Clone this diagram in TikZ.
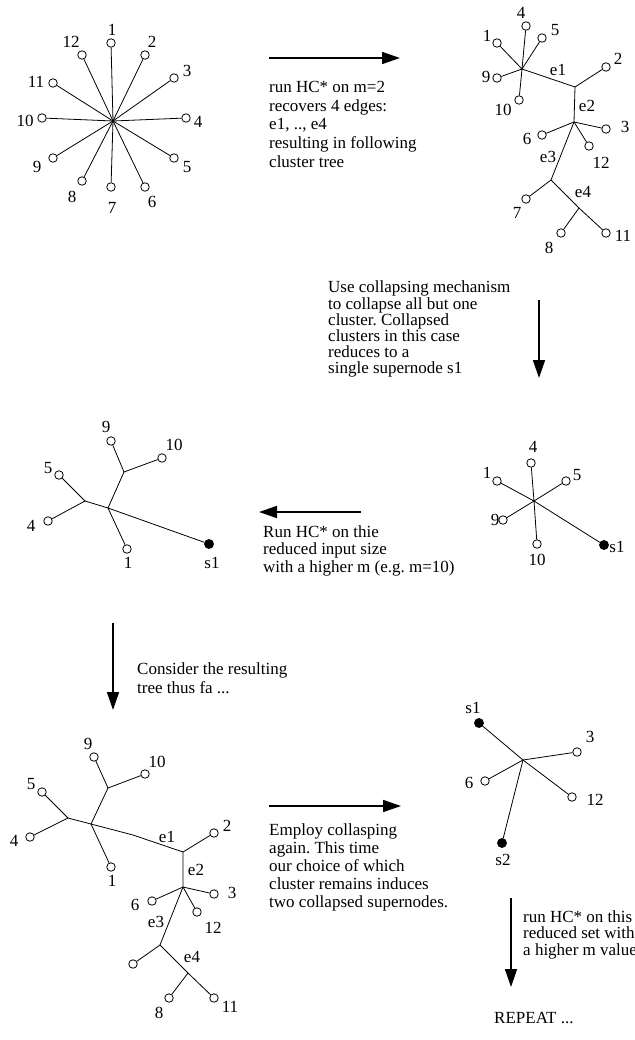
\documentclass[tikz,border=0pt]{standalone}
\usepackage{fontspec}
\setmainfont{Liberation Serif}
\usetikzlibrary{arrows.meta}
\frenchspacing

\begin{document}
\begin{tikzpicture}[
  x=1pt, y=-1pt,
  font=\fontsize{17}{19}\selectfont,
  vtx/.style={circle, draw, line width=0.8pt, inner sep=0pt, minimum size=8.5pt},
  super/.style={vtx, fill=black, minimum size=9pt},
  lbl/.style={inner sep=0pt},
  edge/.style={line width=0.8pt},
  stage/.style={-{Triangle[length=18pt,width=12pt]}, line width=1.6pt},
  note/.style={anchor=north west, inner sep=0pt, align=left},
]
\useasboundingbox (0,0) rectangle (634,1040);

% star on all 12 points
\coordinate (hubA) at (113,121);
\foreach \n/\x/\y/\lx/\ly in {1/111/43/112/30, 2/145/55/152/42, 3/174/78/187/71,
    4/186/118/198/122, 5/174/158/187/167, 6/145/187/152/202, 7/111/187/112/208,
    8/82/181/72/197, 9/53/158/37/167, 10/42/118/25/121, 11/53/83/36/82, 12/82/55/71/42}
{
  \node[vtx] (a\n) at (\x,\y) {};
  \node[lbl] (la\n) at (\lx,\ly) {\n};
  \draw[edge] (hubA) -- (a\n);
}

% cluster tree after m=2
\coordinate (bA) at (522,69);
\coordinate (bB) at (575,87);
\coordinate (bC) at (574,122);
\coordinate (bD) at (551,180);
\coordinate (bE) at (579,208);
\foreach \n/\x/\y/\lx/\ly in {4/526/26/521/13, 5/542/38/555/30, 1/497/43/487/36,
    9/497/78/486/77, 10/519/100/503/110, 2/606/67/618/59, 3/606/129/625/127,
    12/589/146/601/163, 6/542/135/527/139, 7/526/199/517/213, 11/606/233/623/236,
    8/561/233/549/248}
{
  \node[vtx] (b\n) at (\x,\y) {};
  \node[lbl] (lb\n) at (\lx,\ly) {\n};
}
\foreach \n in {4,5,1,9,10} \draw[edge] (bA) -- (b\n);
\draw[edge] (bA) -- (bB) -- (b2);
\draw[edge] (bB) -- (bC) -- (bD) -- (bE) -- (b11);
\foreach \n in {3,12,6} \draw[edge] (bC) -- (b\n);
\draw[edge] (bD) -- (b7);
\draw[edge] (bE) -- (b8);
\node[lbl] (be1) at (558,70) {e1};
\node[lbl] (be2) at (587,106) {e2};
\node[lbl] (be3) at (548,157) {e3};
\node[lbl] (be4) at (583,192) {e4};

% collapsed star with s1
\coordinate (cH) at (534,501);
\foreach \n/\x/\y/\lx/\ly in {4/531/463/533/447, 5/566/481/577/475, 1/497/481/487/473,
    9/503/520/495/520, 10/537/544/537/560}
{
  \node[vtx] (c\n) at (\x,\y) {};
  \node[lbl] (lc\n) at (\lx,\ly) {\n};
  \draw[edge] (cH) -- (c\n);
}
\node[super] (cs1) at (604,545) {};
\node[lbl] (lcs1) at (617,547) {s1};
\draw[edge] (cH) -- (cs1);

% tree on the reduced input
\coordinate (dH) at (108,508);
\coordinate (dH2) at (85,501);
\coordinate (dH3) at (124,472);
\foreach \n/\x/\y/\lx/\ly in {5/59/475/48/468, 4/48/521/31/526, 9/111/441/106/427,
    10/162/458/174/445, 1/127/549/128/563}
{
  \node[vtx] (d\n) at (\x,\y) {};
  \node[lbl] (ld\n) at (\lx,\ly) {\n};
}
\node[super] (ds1) at (209,544) {};
\node[lbl] (lds1) at (212,563) {s1};
\draw[edge] (d5) -- (dH2) -- (d4);
\draw[edge] (d9) -- (dH3) -- (d10);
\draw[edge] (dH2) -- (dH) -- (dH3);
\draw[edge] (dH) -- (d1);
\draw[edge] (dH) -- (ds1);

% resulting tree thus far
\coordinate (fH) at (91,824);
\coordinate (fH2) at (68,818);
\coordinate (fH3) at (108,788);
\coordinate (fK) at (133,835);
\coordinate (fB) at (183,852);
\coordinate (fC) at (183,887);
\coordinate (fD) at (160,945);
\coordinate (fE) at (188,973);
\foreach \n/\x/\y/\lx/\ly in {5/42/792/31/784, 4/30/837/14/841, 9/94/757/88/744,
    10/145/774/157/762, 1/111/867/112/881, 2/214/833/227/826, 3/214/894/232/893,
    12/197/912/213/928, 6/152/901/135/905, 11/214/998/230/1007, 8/169/998/159/1013}
{
  \node[vtx] (f\n) at (\x,\y) {};
  \node[lbl] (lf\n) at (\lx,\ly) {\n};
}
\node[vtx] (f7) at (133,964) {};
\draw[edge] (f5) -- (fH2) -- (f4);
\draw[edge] (f9) -- (fH3) -- (f10);
\draw[edge] (fH2) -- (fH) -- (fH3);
\draw[edge] (fH) -- (f1);
\draw[edge] (fH) -- (fK) -- (fB) -- (f2);
\draw[edge] (fB) -- (fC) -- (fD) -- (fE) -- (f11);
\foreach \n in {3,12,6} \draw[edge] (fC) -- (f\n);
\draw[edge] (fD) -- (f7);
\draw[edge] (fE) -- (f8);
\node[lbl] (fe1) at (167,837) {e1};
\node[lbl] (fe2) at (196,870) {e2};
\node[lbl] (fe3) at (156,922) {e3};
\node[lbl] (fe4) at (192,957) {e4};

% two supernodes
\coordinate (gH) at (523,760);
\foreach \n/\x/\y/\lx/\ly in {3/577/752/590/737, 6/485/781/469/783, 12/572/797/595/800}
{
  \node[vtx] (g\n) at (\x,\y) {};
  \node[lbl] (lg\n) at (\lx,\ly) {\n};
  \draw[edge] (gH) -- (g\n);
}
\node[super] (gs1) at (479,723) {};
\node[lbl] (lgs1) at (473,708) {s1};
\node[super] (gs2) at (502,843) {};
\node[lbl] (lgs2) at (503,860) {s2};
\draw[edge] (gH) -- (gs1);
\draw[edge] (gH) -- (gs2);

% stage arrows
\coordinate (r1s) at (269,58);   \coordinate (r1e) at (400,58);
\coordinate (r2s) at (539,300);  \coordinate (r2e) at (539,378);
\coordinate (r3s) at (361,512);  \coordinate (r3e) at (259,512);
\coordinate (r4s) at (113,623);  \coordinate (r4e) at (113,710);
\coordinate (r5s) at (269,806);  \coordinate (r5e) at (401,806);
\coordinate (r6s) at (511,898);  \coordinate (r6e) at (511,987);
\foreach \k in {1,...,6} \draw[stage] (r\k s) -- (r\k e);

% notes
\node[note, font=\fontsize{17}{18.75}\selectfont] (t1) at (269,81)
  {run HC* on m=2\\recovers 4 edges:\\e1, .., e4\\resulting in following\\cluster tree};
\node[note, font=\fontsize{17}{16.2}\selectfont] (t2) at (328,281)
  {Use collapsing mechanism\\to collapse all but one\\cluster. Collapsed\\clusters in this case\\reduces to a\\single supernode s1};
\node[note, font=\fontsize{17}{17.5}\selectfont] (t3) at (263,525)
  {Run HC* on thie\\reduced input size\\with a higher m (e.g. m=10)};
\node[note] (t4) at (137,662)
  {Consider the resulting\\tree thus fa ...};
\node[note, font=\fontsize{17}{18}\selectfont] (t5) at (269,823)
  {Employ collasping\\again. This time\\our choice of which\\cluster remains induces\\two collapsed supernodes.};
\node[note, font=\fontsize{17}{16.7}\selectfont] (t6) at (523,910)
  {run HC* on this\\reduced set with\\a higher m value};
\node[note] (t7) at (494,1012) {REPEAT ...};
\end{tikzpicture}
\end{document}
